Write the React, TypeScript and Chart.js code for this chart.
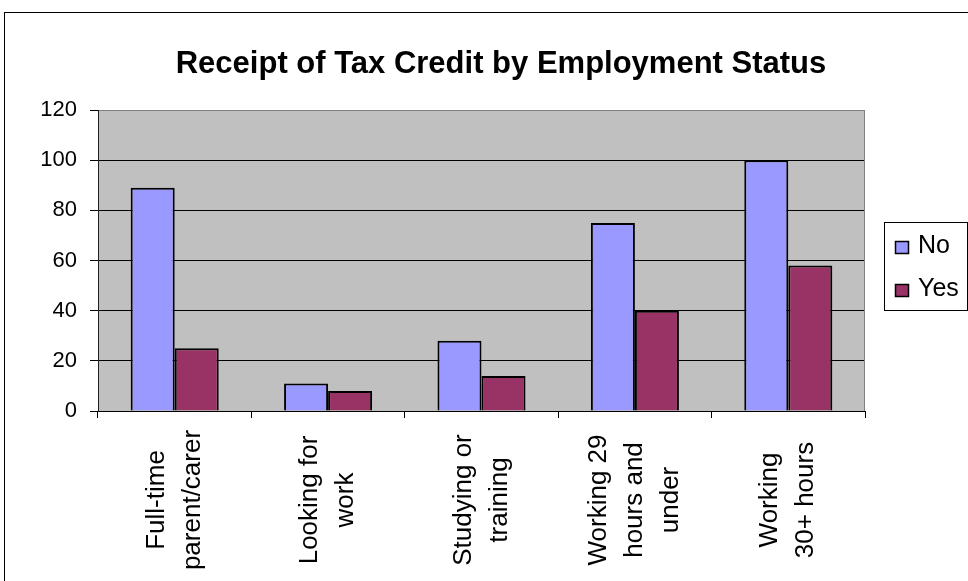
import React, { useEffect, useRef } from "react";
import { Chart, registerables } from "chart.js";

Chart.register(...registerables);

const categories: string[][] = [
  ["Full-time", "parent/carer"],
  ["Looking for", "work"],
  ["Studying or", "training"],
  ["Working 29", "hours and", "under"],
  ["Working", "30+ hours"],
];
const noValues = [89, 11, 28, 75, 100];
const yesValues = [25, 8, 14, 40, 58];
const seriesNames = ["No", "Yes"];
const seriesColors = ["#9999FF", "#993366"];
const chartTitle = "Receipt of Tax Credit by Employment Status";
const yMin = 0;
const yMax = 120;
const yStep = 20;

const FONT = "'Liberation Sans', Arial, sans-serif";

const decorPlugin = {
  id: "decor",
  beforeDraw(chart: any) {
    const { ctx, chartArea: a, width, height } = chart;
    ctx.save();
    ctx.fillStyle = "#FFFFFF";
    ctx.fillRect(0, 0, width, height);
    ctx.strokeStyle = "#000000";
    ctx.lineWidth = 1;
    ctx.strokeRect(4.5, 12.5, width + 20, height + 20);
    ctx.fillStyle = "#C0C0C0";
    ctx.fillRect(a.left, a.top, a.right - a.left, a.bottom - a.top);
    ctx.restore();
  },
  beforeDatasetsDraw(chart: any) {
    const { ctx, chartArea: a } = chart;
    ctx.save();
    ctx.strokeStyle = "#808080";
    ctx.lineWidth = 1;
    ctx.beginPath();
    ctx.moveTo(Math.round(a.right) - 0.5, a.top);
    ctx.lineTo(Math.round(a.right) - 0.5, a.bottom);
    ctx.stroke();
    ctx.restore();
  },
  afterDraw(chart: any) {
    const { ctx } = chart;
    ctx.save();
    // Title
    ctx.fillStyle = "#000000";
    ctx.font = `bold 31px ${FONT}`;
    ctx.textAlign = "center";
    ctx.textBaseline = "alphabetic";
    ctx.fillText(chartTitle, 501, 73);

    // X labels (rotated, lines centred)
    const xs = chart.scales.x;
    ctx.font = `26px ${FONT}`;
    ctx.textAlign = "center";
    ctx.textBaseline = "middle";
    const lineGap = 36;
    categories.forEach((lines, i) => {
      const cx = xs.getPixelForValue(i);
      const n = lines.length;
      lines.forEach((line, j) => {
        const px = cx + (j - (n - 1) / 2) * lineGap;
        ctx.save();
        ctx.translate(px, 500);
        ctx.rotate(-Math.PI / 2);
        ctx.fillText(line, 0, 0);
        ctx.restore();
      });
    });

    // Legend
    ctx.strokeStyle = "#000000";
    ctx.lineWidth = 1;
    ctx.strokeRect(884.5, 222.5, 83, 88);
    ctx.font = `25px ${FONT}`;
    ctx.textAlign = "left";
    ctx.textBaseline = "alphabetic";
    const rows = [253, 296];
    seriesNames.forEach((name, i) => {
      const base = rows[i];
      ctx.fillStyle = seriesColors[i];
      ctx.fillRect(895, base - 12, 13, 12);
      ctx.lineWidth = 1.5;
      ctx.strokeRect(895.5, base - 11.5, 13, 12);
      ctx.fillStyle = "#000000";
      ctx.fillText(name, 918, base);
    });
    ctx.restore();
  },
};

export default function App() {
  const ref = useRef<HTMLCanvasElement | null>(null);
  useEffect(() => {
    if (!ref.current) return;
    const chart = new Chart(ref.current, {
      type: "bar",
      data: {
        labels: categories.map((c) => c.join(" ")),
        datasets: [
          {
            label: seriesNames[0],
            data: noValues,
            backgroundColor: seriesColors[0],
            borderColor: "#000000",
            borderWidth: 2,
          },
          {
            label: seriesNames[1],
            data: yesValues,
            backgroundColor: seriesColors[1],
            borderColor: "#000000",
            borderWidth: 2,
          },
        ],
      },
      options: {
        animation: false,
        responsive: false,
        devicePixelRatio: 1,
        layout: { padding: { top: 110, right: 103, bottom: 0, left: 0 } },
        datasets: { bar: { categoryPercentage: 0.574, barPercentage: 1 } },
        plugins: {
          legend: { display: false },
          title: { display: false },
          tooltip: { enabled: false },
        },
        scales: {
          x: {
            ticks: { display: false },
            grid: {
              offset: true,
              drawOnChartArea: false,
              drawTicks: true,
              tickLength: 7,
              color: "#000000",
            },
            border: { color: "#000000" },
            afterFit: (s: any) => {
              s.height = 170;
            },
          },
          y: {
            min: yMin,
            max: yMax,
            ticks: {
              stepSize: yStep,
              color: "#000000",
              font: { family: FONT, size: 22 },
              padding: 13,
            },
            grid: {
              color: (c: any) => (c.tick && c.tick.value === yMax ? "#808080" : "#000000"),
              tickColor: "#000000",
              tickLength: 8,
              lineWidth: 1,
            },
            border: { color: "#202020" },
            afterFit: (s: any) => {
              s.width = 98;
            },
          },
        },
      },
      plugins: [decorPlugin],
    } as any);
    return () => chart.destroy();
  }, []);
  return (
    <div style={{ position: "fixed", left: 0, top: 0, width: 968, height: 581, background: "#fff" }}>
      <canvas ref={ref} width={968} height={581} style={{ display: "block" }} />
    </div>
  );
}
